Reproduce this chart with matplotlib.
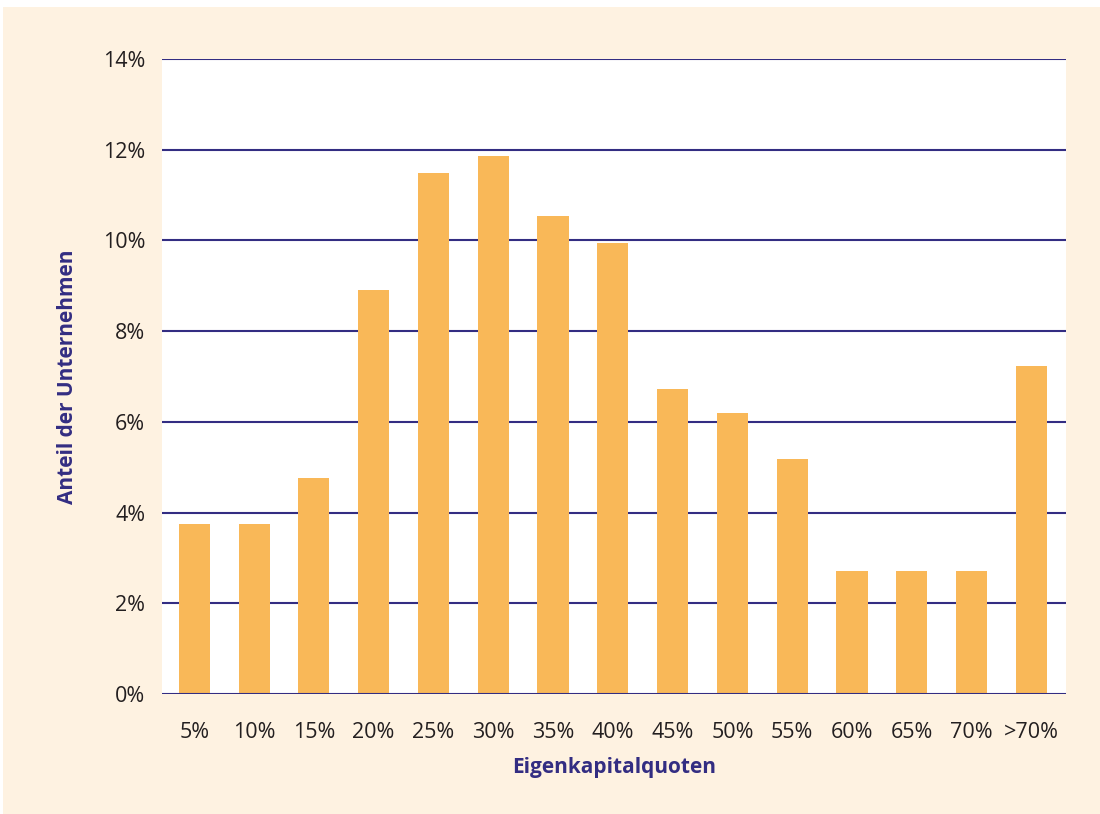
import matplotlib.pyplot as plt
import numpy as np
from matplotlib.patches import Rectangle

plt.rcParams['font.family'] = ['Open Sans', 'DejaVu Sans']

quoten = ["5%", "10%", "15%", "20%", "25%", "30%", "35%", "40%",
          "45%", "50%", "55%", "60%", "65%", "70%", ">70%"]
anteil = [3.75, 3.75, 4.76, 8.9, 11.49, 11.86, 10.54, 9.94,
          6.72, 6.19, 5.18, 2.71, 2.71, 2.71, 7.23]
yticks = [0, 2, 4, 6, 8, 10, 12, 14]

cream = "#FEF2E1"
navy = "#332D82"
bar_col = "#F9B858"

fig = plt.figure(figsize=(11, 8.14), dpi=100)
fig.patch.set_facecolor("white")
# cream panel, white strip only along the top and left edges
fig.patches.append(Rectangle((3 / 1100, -0.02), 1.05, 1.02 - 7 / 814,
                             transform=fig.transFigure, facecolor=cream,
                             edgecolor="none", zorder=-10))

ax = fig.add_axes([162 / 1100, 1 - 694 / 814, 904 / 1100, 635 / 814])
ax.set_facecolor("white")

x = np.arange(len(quoten))
ax.bar(x, anteil, width=0.52, color=bar_col, zorder=3)

ax.set_xlim(-0.54, 14.58)
ax.set_ylim(0, 14)
ax.set_yticks(yticks)
ax.set_yticklabels([f"{v}%" for v in yticks])
ax.set_xticks(x)
ax.set_xticklabels(quoten)

for v in yticks:
    ax.axhline(v, color=navy, lw=1.5, zorder=2 if v > 0 else 4)

for s in ax.spines.values():
    s.set_visible(False)
ax.tick_params(axis="both", length=0, labelsize=15.5, colors="#231F20")
ax.tick_params(axis="y", pad=12)
ax.tick_params(axis="x", pad=20)

ax.set_xlabel("Eigenkapitalquoten", fontsize=15, fontweight="bold",
              color=navy, labelpad=10)
ax.set_ylabel("Anteil der Unternehmen", fontsize=15, fontweight="bold",
              color=navy, labelpad=18)

fig.savefig("out.png", dpi=100, facecolor=fig.get_facecolor())
